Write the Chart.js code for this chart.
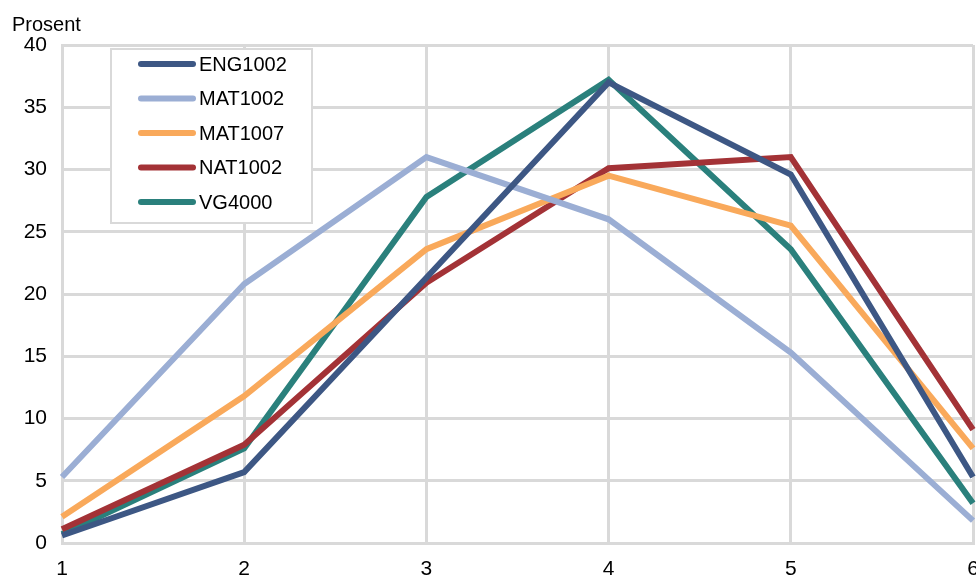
<!DOCTYPE html>
<html>
<head>
<meta charset="utf-8">
<script src="https://cdn.jsdelivr.net/npm/chart.js@4.4.0/dist/chart.umd.min.js"></script>
<style>
  html, body { margin: 0; padding: 0; background: #fff; overflow: hidden; }
  #wrap { position: absolute; left: 0; top: 0; width: 976px; height: 576px; }
</style>
</head>
<body>
<div id="wrap"><canvas id="chart" width="976" height="576"></canvas></div>
<script>
// Categories and values
const categories = ['1', '2', '3', '4', '5', '6'];
const seriesNames = ['ENG1002', 'MAT1002', 'MAT1007', 'NAT1002', 'VG4000'];
const eng1002 = [0.6, 5.7, 21.3, 37.0, 29.6, 5.3];
const mat1002 = [5.3, 20.8, 31.0, 26.0, 15.3, 1.8];
const mat1007 = [2.1, 11.8, 23.6, 29.5, 25.5, 7.6];
const nat1002 = [1.1, 7.9, 20.9, 30.1, 31.0, 9.1];
const vg4000 = [0.7, 7.6, 27.8, 37.2, 23.6, 3.2];
const seriesColors = ['#3D5784', '#9BAED4', '#F9A95B', '#A33236', '#2A807C'];
const yTicks = [0, 5, 10, 15, 20, 25, 30, 35, 40];

const FONT = 'Liberation Sans, Arial, sans-serif';
const GRID = '#D9D9D9';

// Legend box drawn inside the plot, plus the "Prosent" unit label
const overlayPlugin = {
    id: 'overlay',
    afterDraw(chart) {
        const ctx = chart.ctx;
        ctx.save();
        // unit label
        ctx.font = '20px ' + FONT;
        ctx.fillStyle = '#000';
        ctx.textBaseline = 'alphabetic';
        ctx.textAlign = 'left';
        ctx.fillText('Prosent', 12, 31);

        // legend box
        const bx = 111, by = 49, bw = 201, bh = 174;
        ctx.fillStyle = '#fff';
        ctx.fillRect(bx, by, bw, bh);
        ctx.strokeStyle = GRID;
        ctx.lineWidth = 2;
        ctx.strokeRect(bx, by, bw, bh);

        ctx.font = '20px ' + FONT;
        chart.data.datasets.forEach(function (ds, i) {
            const y = 64 + i * 34.5;
            ctx.strokeStyle = ds.borderColor;
            ctx.lineWidth = 6;
            ctx.lineCap = 'round';
            ctx.beginPath();
            ctx.moveTo(141, y);
            ctx.lineTo(193, y);
            ctx.stroke();
            ctx.fillStyle = '#000';
            ctx.textBaseline = 'middle';
            ctx.fillText(ds.label, 199, y + 1);
        });
        ctx.restore();
    }
};

const allValues = [eng1002, mat1002, mat1007, nat1002, vg4000];

const ctx = document.getElementById('chart').getContext('2d');
const chart = new Chart(ctx, {
    type: 'line',
    data: {
        labels: categories,
        datasets: seriesNames.map(function (name, i) {
            return {
                label: name,
                data: allValues[i],
                borderColor: seriesColors[i],
                backgroundColor: seriesColors[i],
                borderWidth: 6,
                pointRadius: 0,
                tension: 0,
                borderJoinStyle: 'miter',
                fill: false
            };
        })
    },
    options: {
        responsive: false,
        animation: false,
        layout: { padding: { top: 45, right: 3, left: 0, bottom: 0 } },
        plugins: {
            legend: { display: false },
            tooltip: { enabled: false }
        },
        scales: {
            x: {
                offset: false,
                grid: { color: GRID, lineWidth: 3, drawTicks: false },
                border: { color: GRID, width: 3 },
                ticks: {
                    color: '#000',
                    font: { family: FONT, size: 21 },
                    padding: 14,
                    maxRotation: 0
                },
                afterFit: function (scale) {
                    scale.height = 33;
                    scale.paddingLeft = 0;
                    scale.paddingRight = 0; // let the last label run off the edge
                }
            },
            y: {
                min: 0,
                max: 40,
                afterBuildTicks: function (scale) {
                    scale.ticks = yTicks.map(function (v) { return { value: v }; });
                },
                grid: { color: GRID, lineWidth: 3, drawTicks: false },
                border: { color: GRID, width: 3 },
                ticks: {
                    color: '#000',
                    font: { family: FONT, size: 21 },
                    padding: 15
                },
                afterFit: function (scale) { scale.width = 62; }
            }
        }
    },
    plugins: [overlayPlugin]
});
</script>
</body>
</html>
